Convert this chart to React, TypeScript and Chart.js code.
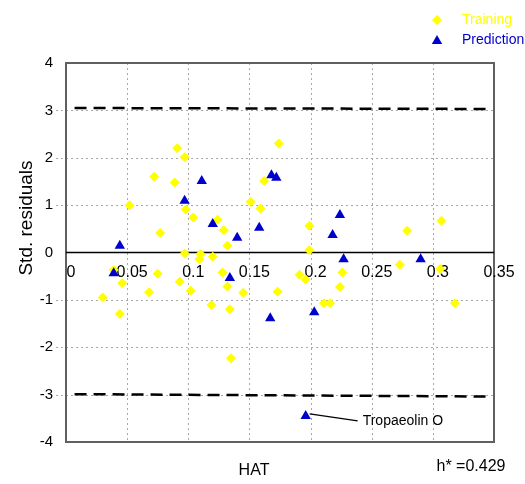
import { useEffect, useRef } from 'react';
import { Chart, registerables } from 'chart.js';

Chart.register(...registerables);

const trainingX = [
  0.091, 0.097, 0.072, 0.089, 0.052, 0.098, 0.104, 0.077, 0.097, 0.110, 0.109,
  0.174, 0.162, 0.151, 0.159, 0.124, 0.129, 0.199, 0.132, 0.199, 0.120,
  0.039, 0.046, 0.075, 0.093, 0.102, 0.030, 0.068, 0.044,
  0.128, 0.132, 0.145, 0.191, 0.196, 0.226, 0.224, 0.173, 0.119, 0.134, 0.211, 0.216, 0.135,
  0.307, 0.279, 0.273, 0.306, 0.318,
];
const trainingY = [
  2.20, 2.01, 1.60, 1.48, 1.00, 0.91, 0.74, 0.41, -0.02, -0.03, -0.14,
  2.30, 1.51, 1.07, 0.93, 0.69, 0.47, 0.56, 0.14, 0.05, -0.09,
  -0.37, -0.65, -0.45, -0.62, -0.81, -0.95, -0.84, -1.30,
  -0.42, -0.72, -0.85, -0.47, -0.57, -0.42, -0.73, -0.83, -1.11, -1.20, -1.07, -1.07, -2.23,
  0.67, 0.46, -0.26, -0.35, -1.07,
];

const predictionX = [
  0.044, 0.039, 0.097, 0.111, 0.120, 0.140, 0.134, 0.158, 0.168,
  0.172, 0.167, 0.203, 0.218, 0.224, 0.227, 0.290, 0.196,
];
const predictionY = [
  0.14, -0.44, 1.09, 1.51, 0.60, 0.31, -0.54, 0.52, 1.63,
  1.58, -1.39, -1.26, 0.37, 0.79, -0.14, -0.14, -3.45,
];

const outlierIndex = 16;
const outlierLabel = 'Tropaeolin O';

const limitX = [0.007, 0.344];
const upperLimitY = [3.05, 3.03];
const lowerLimitY = [-2.99, -3.04];

const xTickValues = [0, 0.05, 0.1, 0.15, 0.2, 0.25, 0.3, 0.35];
const xTickLabels = ['0', '0.05', '0.1', '0.15', '0.2', '0.25', '0.3', '0.35'];
const yGridValues = [-3, -2, -1, 1, 2, 3];

const seriesNames = ['Training', 'Prediction'];
const xTitle = 'HAT';
const yTitle = 'Std. residuals';
const hStarText = 'h* =0.429';

const YELLOW = '#FFFF00';
const BLUE = '#0000CC';
const FONT = '"Liberation Sans", Arial, sans-serif';

function diamond(ctx: CanvasRenderingContext2D, x: number, y: number, r: number) {
  ctx.beginPath();
  ctx.moveTo(x, y - r);
  ctx.lineTo(x + r, y);
  ctx.lineTo(x, y + r);
  ctx.lineTo(x - r, y);
  ctx.closePath();
  ctx.fill();
}
function triangle(ctx: CanvasRenderingContext2D, x: number, y: number, r: number) {
  ctx.beginPath();
  ctx.moveTo(x, y - r);
  ctx.lineTo(x + r * 0.866, y + r / 2);
  ctx.lineTo(x - r * 0.866, y + r / 2);
  ctx.closePath();
  ctx.fill();
}

const decorPlugin = {
  id: 'decor',
  beforeDatasetsDraw(chart: any) {
    const { ctx, chartArea: a, scales } = chart;
    const xs = scales.x;
    const ys = scales.y;
    ctx.save();
    // dotted grid
    ctx.strokeStyle = '#a8a8a8';
    ctx.lineWidth = 1;
    ctx.setLineDash([2, 3]);
    xTickValues.forEach((v) => {
      if (v === 0 || v === 0.35) return;
      const px = Math.round(xs.getPixelForValue(v)) + 0.5;
      ctx.beginPath();
      ctx.moveTo(px, a.top);
      ctx.lineTo(px, a.bottom);
      ctx.stroke();
    });
    yGridValues.forEach((v) => {
      const py = Math.round(ys.getPixelForValue(v)) + 0.5;
      ctx.beginPath();
      ctx.moveTo(a.left - 10, py);
      ctx.lineTo(a.right, py);
      ctx.stroke();
    });
    ctx.setLineDash([]);
    // frame
    ctx.strokeStyle = '#606060';
    ctx.lineWidth = 2;
    ctx.strokeRect(a.left, a.top, a.right - a.left, a.bottom - a.top);
    // zero line
    const y0 = ys.getPixelForValue(0);
    ctx.strokeStyle = '#000000';
    ctx.lineWidth = 1.5;
    ctx.beginPath();
    ctx.moveTo(a.left, y0);
    ctx.lineTo(a.right, y0);
    ctx.stroke();
    // x tick labels inside plot
    ctx.fillStyle = '#000';
    ctx.font = `16px ${FONT}`;
    ctx.textAlign = 'center';
    ctx.textBaseline = 'alphabetic';
    xTickValues.forEach((v, i) => {
      ctx.fillText(xTickLabels[i], xs.getPixelForValue(v) + 5, y0 + 24.5);
    });
    ctx.restore();
  },
  afterDatasetsDraw(chart: any) {
    const { ctx, scales } = chart;
    const xs = scales.x;
    const ys = scales.y;
    ctx.save();
    // outlier annotation
    const px = xs.getPixelForValue(predictionX[outlierIndex]);
    const py = ys.getPixelForValue(predictionY[outlierIndex]);
    ctx.strokeStyle = '#000';
    ctx.lineWidth = 1.2;
    ctx.beginPath();
    ctx.moveTo(px + 4, py - 2);
    ctx.lineTo(px + 52, py + 5);
    ctx.stroke();
    ctx.fillStyle = '#000';
    ctx.font = `14px ${FONT}`;
    ctx.textAlign = 'left';
    ctx.textBaseline = 'middle';
    ctx.fillText(outlierLabel, px + 57, py + 5);
    // axis titles
    ctx.font = `16px ${FONT}`;
    ctx.textAlign = 'center';
    ctx.fillText(xTitle, 254, 471);
    ctx.fillText(hStarText, 471, 467);
    ctx.save();
    ctx.translate(27, 218);
    ctx.rotate(-Math.PI / 2);
    ctx.font = `19px ${FONT}`;
    ctx.fillText(yTitle, 0, 0);
    ctx.restore();
    // legend
    ctx.font = `14px ${FONT}`;
    ctx.textAlign = 'left';
    ctx.fillStyle = YELLOW;
    diamond(ctx, 437, 20, 5);
    ctx.fillText(seriesNames[0], 462, 20);
    ctx.fillStyle = BLUE;
    triangle(ctx, 437, 41, 6);
    ctx.fillText(seriesNames[1], 462, 40);
    ctx.restore();
  },
};

export default function App() {
  const ref = useRef<HTMLCanvasElement | null>(null);
  useEffect(() => {
    if (!ref.current) return;
    const chart = new Chart(ref.current, {
      type: 'scatter',
      data: {
        datasets: [
          {
            label: seriesNames[1],
            data: predictionX.map((x, i) => ({ x, y: predictionY[i] })),
            pointStyle: 'triangle',
            pointRadius: 6,
            backgroundColor: BLUE,
            borderColor: BLUE,
            borderWidth: 0,
            order: 0,
          },
          {
            label: seriesNames[0],
            data: trainingX.map((x, i) => ({ x, y: trainingY[i] })),
            pointStyle: 'rectRot',
            pointRadius: 5,
            backgroundColor: YELLOW,
            borderColor: YELLOW,
            borderWidth: 0,
            order: 1,
          },
          {
            label: 'upper',
            data: limitX.map((x, i) => ({ x, y: upperLimitY[i] })),
            showLine: true,
            pointRadius: 0,
            borderColor: '#000',
            borderWidth: 2.5,
            borderDash: [12, 7],
            order: 2,
          },
          {
            label: 'lower',
            data: limitX.map((x, i) => ({ x, y: lowerLimitY[i] })),
            showLine: true,
            pointRadius: 0,
            borderColor: '#000',
            borderWidth: 2.5,
            borderDash: [12, 7],
            order: 2,
          },
        ],
      },
      options: {
        responsive: false,
        animation: false,
        devicePixelRatio: 1,
        layout: { padding: { top: 63, right: 31, left: 0, bottom: 0 } },
        plugins: { legend: { display: false }, tooltip: { enabled: false } },
        scales: {
          x: {
            type: 'linear',
            min: 0,
            max: 0.35,
            grid: { display: false },
            border: { display: false },
            ticks: { display: false },
            afterFit: (s: any) => {
              s.height = 42;
            },
          },
          y: {
            type: 'linear',
            min: -4,
            max: 4,
            grid: { display: false, drawTicks: false },
            border: { display: false },
            ticks: {
              stepSize: 1,
              padding: 13,
              color: '#000',
              font: { family: FONT, size: 15 },
            },
            afterFit: (s: any) => {
              s.width = 66;
            },
          },
        },
      },
      plugins: [decorPlugin],
    } as any);
    return () => chart.destroy();
  }, []);
  return (
    <div style={{ position: 'fixed', left: 0, top: 0, width: 525, height: 484, background: '#fff' }}>
      <canvas ref={ref} width={525} height={484} />
    </div>
  );
}
